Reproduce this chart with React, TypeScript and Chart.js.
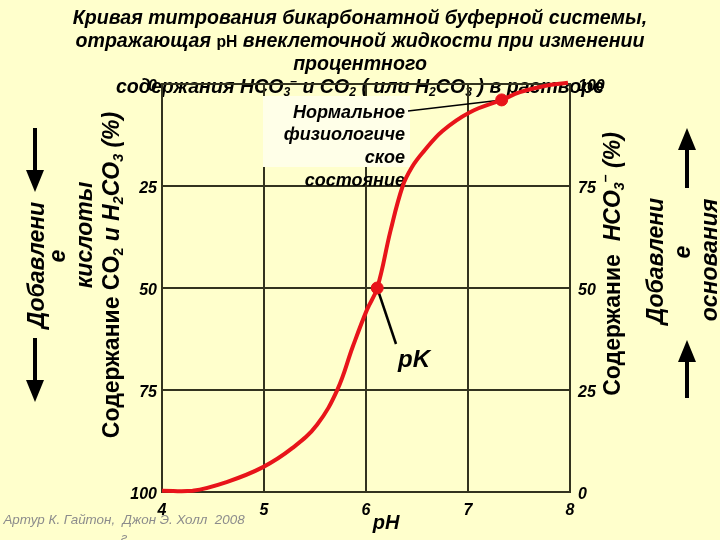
import React, { useEffect, useRef } from 'react';
import { Chart, registerables } from 'chart.js';
Chart.register(...registerables);

// ---- data ----
const phValues = [4.0, 4.3, 4.64, 4.99, 5.28, 5.52, 5.72, 5.87, 6.01, 6.11, 6.24, 6.36, 6.45, 6.56, 6.75, 7.02, 7.33, 7.51, 7.75, 7.98];
const hco3Values = [0.3, 0.3, 2.5, 6.1, 10.8, 16.5, 25.1, 35.6, 44.7, 50, 64.0, 75.0, 79.6, 83.3, 88.5, 93.1, 96.1, 98.0, 99.5, 100.3];
const markPH = [6.11, 7.33];
const markHCO3 = [50, 96.1];
const xTickValues = [4, 5, 6, 7, 8];
const yTickValues = [0, 25, 50, 75, 100];

const titleLine1 = 'Кривая титрования бикарбонатной буферной системы,';
const titleLine3 = 'процентного';
const normalLines = ['Нормальное', 'физиологиче', 'ское', 'состояние'];
const pkLabel = 'pK';
const phLabel = 'pH';
const credit1 = 'Артур К. Гайтон,  Джон Э. Холл  2008';
const credit2 = 'г';

const FONT = '"Liberation Sans", Arial, sans-serif';
const BG = '#FFFFCC';
const GRID = '#33331f';
const RED = '#e8141a';

type Seg = { t: string; s?: 'sub' | 'sup'; it?: boolean; scale?: number };

function drawRich(ctx: CanvasRenderingContext2D, segs: Seg[], x: number, y: number, size: number,
  align: 'center' | 'left' | 'right', defItalic = true, bold = true) {
  const fontFor = (seg: Seg) => {
    const sz = seg.s ? size * 0.62 : size * (seg.scale || 1);
    const it = seg.it === undefined ? defItalic : seg.it;
    return `${it ? 'italic ' : ''}${bold ? 'bold ' : ''}${sz}px ${FONT}`;
  };
  const widths = segs.map((seg) => { ctx.font = fontFor(seg); return ctx.measureText(seg.t).width; });
  const total = widths.reduce((a, b) => a + b, 0);
  let cx = align === 'center' ? x - total / 2 : align === 'right' ? x - total : x;
  ctx.textAlign = 'left';
  ctx.textBaseline = 'alphabetic';
  segs.forEach((seg, i) => {
    ctx.font = fontFor(seg);
    const dy = seg.s === 'sub' ? size * 0.16 : seg.s === 'sup' ? -size * 0.42 : 0;
    ctx.fillText(seg.t, cx, y + dy);
    cx += widths[i];
  });
  return total;
}

function drawRotated(ctx: CanvasRenderingContext2D, segs: Seg[], cx: number, cy: number, size: number, defItalic = true) {
  ctx.save();
  ctx.translate(cx + size * 0.3, cy);
  ctx.rotate(-Math.PI / 2);
  drawRich(ctx, segs, 0, 0, size, 'center', defItalic, true);
  ctx.restore();
}

function arrow(ctx: CanvasRenderingContext2D, x: number, yTail: number, yTip: number) {
  const dir = yTip > yTail ? 1 : -1;
  const headLen = 22;
  const half = 9;
  ctx.save();
  ctx.strokeStyle = '#000';
  ctx.fillStyle = '#000';
  ctx.lineWidth = 4;
  ctx.beginPath();
  ctx.moveTo(x, yTail);
  ctx.lineTo(x, yTip - dir * headLen * 0.8);
  ctx.stroke();
  ctx.beginPath();
  ctx.moveTo(x, yTip);
  ctx.lineTo(x - half, yTip - dir * headLen);
  ctx.lineTo(x + half, yTip - dir * headLen);
  ctx.closePath();
  ctx.fill();
  ctx.restore();
}

const decorPlugin = {
  id: 'decor',
  beforeDraw(chart: any) {
    const ctx: CanvasRenderingContext2D = chart.ctx;
    ctx.save();
    ctx.fillStyle = BG;
    ctx.fillRect(0, 0, chart.width, chart.height);
    ctx.fillStyle = '#000';
    const ts = 19.6;
    drawRich(ctx, [{ t: titleLine1 }], 360, 24, ts, 'center');
    drawRich(ctx, [{ t: 'отражающая ' }, { t: 'pH', scale: 0.8, it: false }, { t: ' внеклеточной жидкости при изменении' }], 360, 47, ts, 'center');
    drawRich(ctx, [{ t: titleLine3 }], 360, 70, ts, 'center');
    drawRich(ctx, [
      { t: 'содержания HCO' }, { t: '3', s: 'sub' }, { t: '–', s: 'sup' }, { t: ' и CO' }, { t: '2', s: 'sub' },
      { t: ' ( или H' }, { t: '2', s: 'sub' }, { t: 'CO' }, { t: '3', s: 'sub' }, { t: ' ) в растворе' },
    ], 360, 93, ts, 'center');

    // left side
    drawRotated(ctx, [{ t: 'Добавлени' }], 37, 265, 23);
    drawRotated(ctx, [{ t: 'е' }], 58, 256, 23);
    drawRotated(ctx, [{ t: 'кислоты' }], 85, 235, 23);
    drawRotated(ctx, [
      { t: 'Содержание CO', it: false }, { t: '2', s: 'sub', it: false }, { t: ' и H' }, { t: '2', s: 'sub' },
      { t: 'CO' }, { t: '3', s: 'sub' }, { t: ' (%)' },
    ], 112, 275, 23, true);
    // right side
    drawRotated(ctx, [
      { t: 'Содержание  ', it: false }, { t: 'HCO' }, { t: '3', s: 'sub' }, { t: '–', s: 'sup' }, { t: ' (%)' },
    ], 613, 264, 23, true);
    drawRotated(ctx, [{ t: 'Добавлени' }], 656, 261, 23);
    drawRotated(ctx, [{ t: 'е' }], 683, 252, 23);
    drawRotated(ctx, [{ t: 'основания' }], 710, 260, 23);

    arrow(ctx, 35, 128, 192);
    arrow(ctx, 35, 338, 402);
    arrow(ctx, 687, 188, 128);
    arrow(ctx, 687, 398, 340);

    // pH axis label
    drawRich(ctx, [{ t: phLabel }], 386, 529, 20, 'center');

    // credit
    ctx.fillStyle = '#8c8c8c';
    drawRich(ctx, [{ t: credit1 }], 124, 524, 13.4, 'center', true, false);
    drawRich(ctx, [{ t: credit2 }], 124, 542, 13.4, 'center', true, false);
    ctx.restore();
  },
  beforeDatasetsDraw(chart: any) {
    const ctx: CanvasRenderingContext2D = chart.ctx;
    const xs = chart.scales.x;
    const ys = chart.scales.y;
    ctx.save();
    // annotation box
    ctx.fillStyle = '#FFFFE8';
    ctx.fillRect(263, 96, 147, 71);
    ctx.fillStyle = '#000';
    const base = [118, 140, 163, 186];
    normalLines.forEach((l, i) => drawRich(ctx, [{ t: l }], 405, base[i], 18, 'right'));
    // leader lines
    ctx.strokeStyle = '#000';
    ctx.lineWidth = 1.5;
    ctx.beginPath();
    ctx.moveTo(408, 111);
    ctx.lineTo(xs.getPixelForValue(markPH[1]), ys.getPixelForValue(markHCO3[1]));
    ctx.stroke();
    ctx.lineWidth = 2.5;
    ctx.beginPath();
    ctx.moveTo(xs.getPixelForValue(markPH[0]), ys.getPixelForValue(markHCO3[0]));
    ctx.lineTo(396, 344);
    ctx.stroke();
    drawRich(ctx, [{ t: pkLabel }], 398, 367, 24, 'left');
    ctx.restore();
  },
};

export default function App() {
  const ref = useRef<HTMLCanvasElement>(null);
  useEffect(() => {
    if (!ref.current) return;
    const tickFont = { family: FONT, size: 16, weight: 'bold' as const, style: 'italic' as const };
    const chart = new Chart(ref.current, {
      type: 'line',
      data: {
        datasets: [
          {
            data: phValues.map((p, i) => ({ x: p, y: hco3Values[i] })),
            borderColor: RED,
            borderWidth: 4,
            pointRadius: 0,
            tension: 0.4,
            fill: false,
            clip: false as any,
            yAxisID: 'y',
          },
          {
            data: markPH.map((p, i) => ({ x: p, y: markHCO3[i] })),
            showLine: false,
            pointRadius: 6,
            pointBackgroundColor: RED,
            pointBorderColor: RED,
            borderColor: RED,
            clip: false as any,
            yAxisID: 'y',
          },
        ],
      },
      options: {
        animation: false,
        responsive: false,
        devicePixelRatio: 1,
        layout: { padding: { top: 84, left: 0, right: 0, bottom: 0 } },
        plugins: { legend: { display: false }, tooltip: { enabled: false }, title: { display: false } },
        scales: {
          x: {
            type: 'linear',
            min: xTickValues[0],
            max: xTickValues[xTickValues.length - 1],
            afterBuildTicks: (s: any) => { s.ticks = xTickValues.map((v) => ({ value: v })); },
            ticks: { font: tickFont, color: '#000', padding: 9 },
            grid: { color: GRID, lineWidth: 2, drawTicks: false },
            border: { color: GRID, width: 2 },
            afterFit: (s: any) => { s.height = 48; },
          },
          yL: {
            type: 'linear',
            position: 'left',
            reverse: true,
            min: 0,
            max: 100,
            afterBuildTicks: (s: any) => { s.ticks = yTickValues.map((v) => ({ value: v })); },
            ticks: { font: tickFont, color: '#000', padding: 5, labelOffset: 3 },
            grid: { display: false, drawTicks: false },
            border: { color: GRID, width: 2 },
            afterFit: (s: any) => { s.width = 162; },
          },
          y: {
            type: 'linear',
            position: 'right',
            min: 0,
            max: 100,
            afterBuildTicks: (s: any) => { s.ticks = yTickValues.map((v) => ({ value: v })); },
            ticks: { font: tickFont, color: '#000', padding: 8, labelOffset: 3 },
            grid: { color: GRID, lineWidth: 2, drawTicks: false },
            border: { color: GRID, width: 2 },
            afterFit: (s: any) => { s.width = 150; },
          },
        },
      },
      plugins: [decorPlugin],
    });
    return () => chart.destroy();
  }, []);
  return (
    <div style={{ position: 'fixed', left: 0, top: 0, width: 720, height: 540, background: BG, overflow: 'hidden' }}>
      <canvas ref={ref} width={720} height={540} style={{ display: 'block' }} />
    </div>
  );
}
